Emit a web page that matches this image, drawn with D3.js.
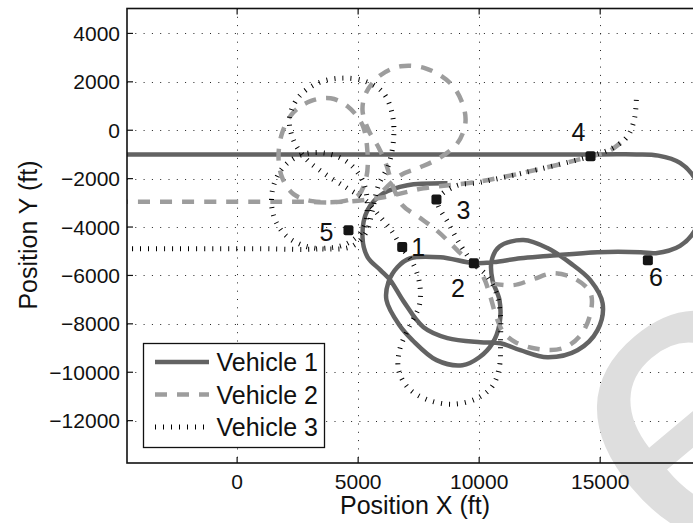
<!DOCTYPE html>
<html>
<head>
<meta charset="utf-8">
<script src="https://cdn.jsdelivr.net/npm/d3@7"></script>
<style>
  body { margin: 0; background: #fff; }
  svg { display: block; font-family: "Liberation Sans", Arial, sans-serif; }
</style>
</head>
<body>
<svg id="chart"></svg>
<script>
// ===================== DATA (feet) =====================
const xTicks = [0, 5000, 10000, 15000];
const yTicks = [4000, 2000, 0, -2000, -4000, -6000, -8000, -10000, -12000];

const vehicleNames = ["Vehicle 1", "Vehicle 2", "Vehicle 3"];

// Vehicle 1 (solid)
const vehicle1 = [
  [-5000, -1000], [5000, -1000], [15000, -1000], [16500, -1000], [17400, -1050],
  [18300, -1350], [18950, -2050], [19250, -3040], [18950, -4080], [18300, -4780],
  [17300, -5080], [16670, -5040], [14890, -5040],
  [12820, -5200], [11700, -5290], [10590, -5450], [9770, -5490], [8400, -5250],
  [7160, -5290], [6620, -5660], [6250, -6280], [6170, -7020], [6700, -8050],
  [7240, -8670], [8240, -9500], [9310, -9710], [10010, -9380], [10550, -8800],
  [10840, -8010], [10840, -7020], [10550, -6200], [10510, -5410], [10840, -4800],
  [11830, -4540], [12820, -4870], [13770, -5490], [14600, -6200], [15100, -7150],
  [14890, -8260], [14060, -9090], [12820, -9380], [11700, -9090], [10880, -8800],
  [10050, -8760], [8690, -8590], [7700, -8140], [6870, -7060], [6330, -6200],
  [5920, -5780], [5390, -5240], [5180, -4420], [5390, -3300], [6050, -2600],
  [7040, -2270], [8690, -2190]
];

// Vehicle 2 (dashed); null splits the track
const vehicle2 = [
  [-5000, -2950], [1000, -2950], [2600, -2950], [4270, -2950], [5010, -2680], [5340, -1940],
  [5380, -830], [5180, 210], [4560, 990], [3860, 1320], [3030, 1200],
  [2330, 740], [1870, -80], [1710, -1120], [1870, -1980], [2330, -2640],
  [3110, -2930], [4480, -2950], [6050, -2770], [7700, -2400], [10050, -2110],
  [12820, -1530], [14600, -1080], [15420, -830], [16040, -330],
  null,
  [6050, -2480], [6750, -1860], [7570, -1530], [8400, -1120], [9100, -540],
  [9430, 290], [9310, 1110], [8810, 1940], [7780, 2560], [6750, 2640],
  [5920, 2270], [5340, 1570], [5180, 830], [5430, 0], [5840, -700],
  [6170, -1450], [6420, -2270], [6830, -3100], [7570, -3630], [8280, -4170],
  [8810, -4670], [9310, -5160], [9760, -5490], [10180, -6070], [10470, -6900],
  [10710, -7720], [11000, -8340], [11500, -8760], [12530, -9050], [13480, -9000],
  [14190, -8470], [14600, -7560], [14600, -6730], [13980, -6150], [13070, -5910],
  [12240, -6150], [11420, -6400], [10470, -6320]
];

// Vehicle 3 (dotted)
const vehicle3 = [
  [-5000, -4900], [1000, -4900], [3360, -4900], [4475, -4710], [5180, -4130], [5380, -3100],
  [5180, -2065], [4560, -1320], [3650, -950], [2620, -1030], [1870, -1570],
  [1460, -2480], [1500, -3510], [2000, -4340], [2820, -4790], [3860, -4910],
  [4760, -4790], [5340, -4210], [5590, -3300], [5840, -2270], [6250, -1450],
  [6460, -410], [6420, 620], [6050, 1530], [5300, 2020], [4270, 2150],
  [3320, 1940], [2530, 1360], [2160, 500], [2330, -410], [2820, -1160],
  [3650, -1820], [4560, -2400], [5300, -2890], [5920, -3590], [6420, -4210],
  [6790, -4830], [7240, -5450], [7530, -6280], [7530, -7230], [7080, -8180],
  [6710, -9090], [6670, -9910], [7080, -10660], [7900, -11150], [8940, -11320],
  [9930, -11070], [10550, -10570], [10840, -9750], [10880, -8670], [10880, -7640],
  [10710, -6730], [10300, -5990], [9760, -5490], [9230, -4750], [8730, -3840],
  [8280, -2890], [9020, -2310], [10050, -2150], [12820, -1530], [14600, -1070],
  [15510, -740], [16130, -250], [16420, 500], [16500, 1450]
];

// Numbered targets
const targetIds = ["1", "2", "3", "4", "5", "6"];
const targetX = [6820, 9780, 8235, 14600, 4600, 16970];
const targetY = [-4820, -5500, -2860, -1075, -4130, -5370];

// ===================== LAYOUT =====================
const width = 693;
const height = 523;
const plotL = 127, plotR = 697, plotT = 8.5, plotB = 463;

const svg = d3.select("#chart").attr("width", width).attr("height", height);
svg.append("rect").attr("width", width).attr("height", height).attr("fill", "#fff");

const x = d3.scaleLinear().domain([-4550, 19000]).range([plotL, plotR]);
const y = d3.scaleLinear().domain([-13750, 5030]).range([plotB, plotT]);

svg.append("defs").append("clipPath").attr("id", "plot-clip")
  .append("rect")
  .attr("x", plotL).attr("y", plotT)
  .attr("width", plotR - plotL).attr("height", plotB - plotT);

// ===================== GRID =====================
const grid = svg.append("g")
  .attr("stroke", "#222")
  .attr("stroke-width", 1)
  .attr("stroke-dasharray", "1,7.3");

grid.selectAll("line.vx").data(xTicks).join("line")
  .attr("x1", (d) => Math.round(x(d)) + 0.5).attr("x2", (d) => Math.round(x(d)) + 0.5)
  .attr("y1", plotT).attr("y2", plotB);

grid.selectAll("line.hy").data(yTicks).join("line")
  .attr("y1", (d) => Math.round(y(d)) + 0.5).attr("y2", (d) => Math.round(y(d)) + 0.5)
  .attr("x1", plotL).attr("x2", plotR);

// ===================== TRACKS =====================
const line = d3.line()
  .defined((d) => d)
  .x((d) => x(d[0]))
  .y((d) => y(d[1]))
  .curve(d3.curveCatmullRom.alpha(0.5));

const tracks = svg.append("g").attr("clip-path", "url(#plot-clip)").attr("fill", "none");

const styles = [
  { data: vehicle1, stroke: "#636363", width: 4.5, dash: null },
  { data: vehicle2, stroke: "#9d9d9d", width: 4.5, dash: "12,10" },
  { data: vehicle3, stroke: "#000", width: 5, dash: "1,7" }
];

styles.forEach((s) => {
  tracks.append("path")
    .datum(s.data)
    .attr("d", line)
    .attr("stroke", s.stroke)
    .attr("stroke-width", s.width)
    .attr("stroke-dasharray", s.dash)
    .attr("stroke-linejoin", "round");
});

// ===================== TARGETS =====================
const labelOffsets = [[16, 9], [-16, 34], [27, 20], [-12, -15], [-22, 11], [8, 26]];

const targets = svg.append("g");
targets.selectAll("rect").data(targetIds).join("rect")
  .attr("x", (d, i) => x(targetX[i]) - 5)
  .attr("y", (d, i) => y(targetY[i]) - 5)
  .attr("width", 10).attr("height", 10)
  .attr("rx", 2)
  .attr("fill", "#151515");

targets.selectAll("text").data(targetIds).join("text")
  .attr("x", (d, i) => x(targetX[i]) + labelOffsets[i][0])
  .attr("y", (d, i) => y(targetY[i]) + labelOffsets[i][1])
  .attr("text-anchor", "middle")
  .attr("font-size", 25)
  .attr("fill", "#111")
  .text((d) => d);

// ===================== WATERMARK =====================
svg.append("text")
  .attr("transform", "translate(690,585) rotate(-40)")
  .attr("font-size", 420)
  .attr("font-family", "Liberation Sans, Arial, sans-serif")
  .attr("fill", "#dedede")
  .text("e");

// ===================== AXES =====================
const axes = svg.append("g").attr("stroke", "#111").attr("fill", "none");
axes.append("rect")
  .attr("x", plotL).attr("y", plotT)
  .attr("width", plotR - plotL).attr("height", plotB - plotT)
  .attr("stroke-width", 1.6);

axes.selectAll("line.tx").data(xTicks).join("line")
  .attr("x1", (d) => x(d)).attr("x2", (d) => x(d))
  .attr("y1", plotB).attr("y2", plotB - 6)
  .attr("stroke-width", 1.2);
axes.selectAll("line.ttx").data(xTicks).join("line")
  .attr("x1", (d) => x(d)).attr("x2", (d) => x(d))
  .attr("y1", plotT).attr("y2", plotT + 6)
  .attr("stroke-width", 1.2);
axes.selectAll("line.ty").data(yTicks).join("line")
  .attr("y1", (d) => y(d)).attr("y2", (d) => y(d))
  .attr("x1", plotL).attr("x2", plotL + 6)
  .attr("stroke-width", 1.2);

const fmt = (d) => (d < 0 ? "\u2212" + Math.abs(d) : String(d));

svg.append("g").selectAll("text").data(xTicks).join("text")
  .attr("x", (d) => x(d))
  .attr("y", 489)
  .attr("text-anchor", "middle")
  .attr("font-size", 21)
  .attr("fill", "#111")
  .text(fmt);

svg.append("g").selectAll("text").data(yTicks).join("text")
  .attr("x", 120)
  .attr("y", (d) => y(d) + 7.5)
  .attr("text-anchor", "end")
  .attr("font-size", 21)
  .attr("fill", "#111")
  .text(fmt);

svg.append("text")
  .attr("x", 415).attr("y", 514)
  .attr("text-anchor", "middle")
  .attr("font-size", 25)
  .attr("fill", "#111")
  .text("Position X (ft)");

svg.append("text")
  .attr("transform", "translate(36.5,235) rotate(-90)")
  .attr("text-anchor", "middle")
  .attr("font-size", 25)
  .attr("fill", "#111")
  .text("Position Y (ft)");

// ===================== LEGEND =====================
const legend = svg.append("g");
legend.append("rect")
  .attr("x", 143.5).attr("y", 343.5)
  .attr("width", 181).attr("height", 104)
  .attr("fill", "#fff")
  .attr("stroke", "#111")
  .attr("stroke-width", 1.3);

const legendRowY = d3.scalePoint().domain(vehicleNames).range([362, 427]);

vehicleNames.forEach((name, i) => {
  const s = styles[i];
  const ly = legendRowY(name);
  legend.append("line")
    .attr("x1", 155).attr("x2", 209)
    .attr("y1", ly).attr("y2", ly)
    .attr("stroke", s.stroke)
    .attr("stroke-width", s.width)
    .attr("stroke-dasharray", s.dash);
  legend.append("text")
    .attr("x", 216.5).attr("y", ly + 9)
    .attr("font-size", 25)
    .attr("fill", "#111")
    .text(name);
});
</script>
</body>
</html>
